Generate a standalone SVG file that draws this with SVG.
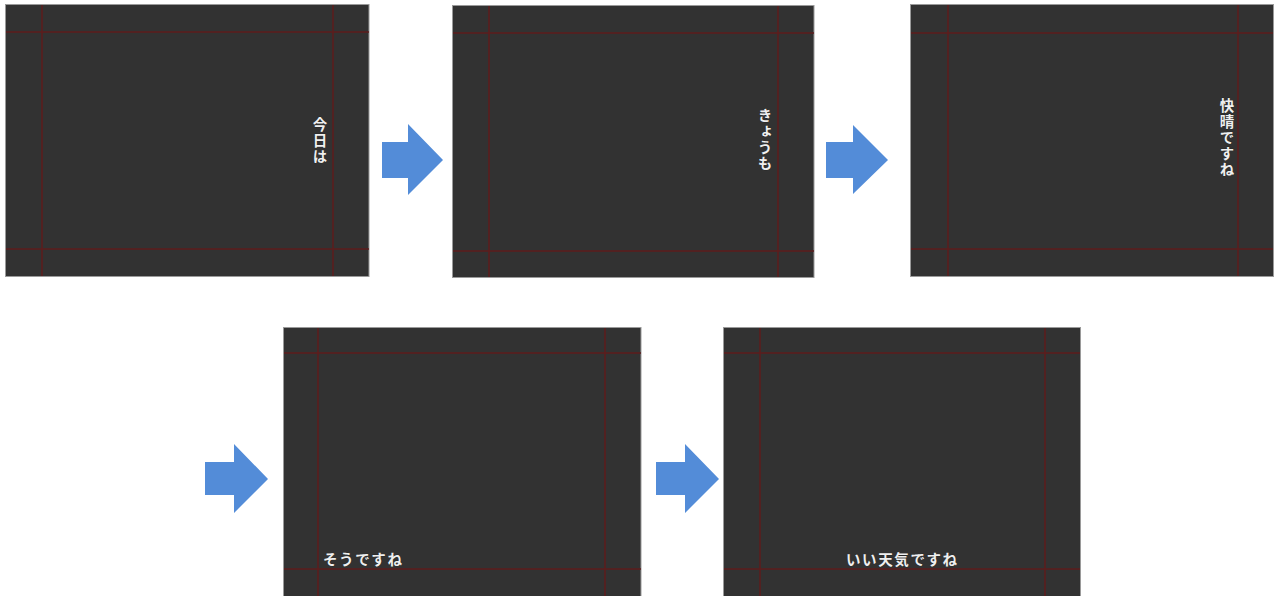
<svg xmlns="http://www.w3.org/2000/svg" width="1279" height="596" viewBox="0 0 1279 596">
<style>
.panel{fill:#323232;stroke:#9a9a9a;stroke-width:1}
.guide{stroke:#5e1c1c;stroke-width:1.5;fill:none}
.arrow{fill:#538cd8}
.cap{font-family:"Noto Sans CJK JP",sans-serif;font-size:14.5px;font-weight:bold;fill:#efefef;stroke:#1a1a1a;stroke-width:0.4;paint-order:stroke;letter-spacing:1.6px}
.vert{writing-mode:vertical-rl;text-anchor:start}
</style>
<rect width="1279" height="596" fill="#ffffff"/>
<g id="panel1">
<rect class="panel" x="5.5" y="4.5" width="363.5" height="272"/>
<path class="guide" d="M42 5V276M333 5V276M6 32H369M6 249H369"/>
<text class="cap vert" x="320" y="117">今日は</text>
</g>
<g id="panel2">
<rect class="panel" x="452.5" y="5.5" width="361.5" height="272"/>
<path class="guide" d="M489 6V277M778 6V277M453 33H814M453 251H814"/>
<text class="cap vert" x="765" y="108">きょうも</text>
</g>
<g id="panel3">
<rect class="panel" x="910.5" y="4.5" width="363" height="272"/>
<path class="guide" d="M948 5V276M1238 5V276M911 33H1273M911 249H1273"/>
<text class="cap vert" x="1227" y="98">快晴ですね</text>
</g>
<g id="panel4">
<rect class="panel" x="283.5" y="327.5" width="357.5" height="275"/>
<path class="guide" d="M318 328V596M605 328V596M284 353H641M284 569H641"/>
<text class="cap" x="323" y="565">そうですね</text>
</g>
<g id="panel5">
<rect class="panel" x="723.5" y="327.5" width="357" height="275"/>
<path class="guide" d="M760 328V596M1045 328V596M724 353H1080M724 569H1080"/>
<text class="cap" x="846" y="565">いい天気ですね</text>
</g>
<g id="connectors">
<polygon class="arrow" points="382,142 408,142 408,124 443,160 408,195 408,178 382,178"/>
<polygon class="arrow" points="826,142 853,142 853,125 888,160 853,194 853,178 826,178"/>
<polygon class="arrow" points="205,462 234,462 234,444 268,479 234,513 234,495 205,495"/>
<polygon class="arrow" points="656,462 685,462 685,444 719,479 685,513 685,495 656,495"/>
</g>
</svg>
